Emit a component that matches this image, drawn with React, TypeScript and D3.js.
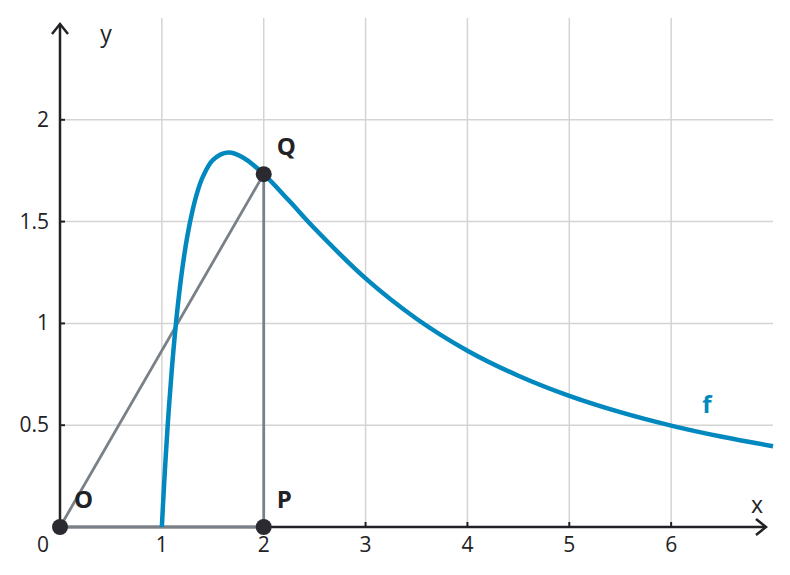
import * as d3 from "d3";

const curveX = [1, 1.01, 1.03, 1.05, 1.07, 1.1, 1.15, 1.2, 1.25, 1.3, 1.35, 1.4, 1.5, 1.65, 1.8, 2, 2.25, 2.5, 3, 3.5, 4, 4.5, 5, 5.5, 6, 6.5, 7];
const curveY = [0, 0.098, 0.279, 0.443, 0.591, 0.788, 1.057, 1.266, 1.428, 1.552, 1.647, 1.717, 1.802, 1.839, 1.814, 1.733, 1.602, 1.466, 1.221, 1.023, 0.866, 0.743, 0.644, 0.564, 0.498, 0.443, 0.397];

const xTicks = [1, 2, 3, 4, 5, 6];
const yTicks = [0.5, 1, 1.5, 2];
const yTickLabels = ["0.5", "1", "1.5", "2"];

const pointNames = ["O", "P", "Q"];
const pointX = [0, 2, 2];
const pointY = [0, 0, 1.733];

const width = 790;
const height = 575;
const font = "'Open Sans', 'Noto Sans', sans-serif";
const ink = "#222226";
const gray = "#7a8087";
const blue = "#0088bf";

export default function App() {
  const x = d3.scaleLinear([0, 7], [60, 773]);
  const y = d3.scaleLinear([0, 2.5], [527, 18]);
  const line = d3
    .line<number>()
    .x((_, i) => x(curveX[i]))
    .y((d) => y(d))
    .curve(d3.curveCatmullRom);

  const [O, P, Q] = pointNames.map((_, i) => ({ cx: x(pointX[i]), cy: y(pointY[i]) }));

  return (
    <svg
      width={width}
      height={height}
      viewBox={`0 0 ${width} ${height}`}
      style={{ position: "absolute", left: 0, top: 0, background: "#fff" }}
      fontFamily={font}
    >
      {xTicks.map((t) => (
        <line key={`gx${t}`} x1={x(t)} x2={x(t)} y1={y(2.5)} y2={y(0)} stroke="#d4d4d4" strokeWidth={1.5} />
      ))}
      {yTicks.map((t) => (
        <line key={`gy${t}`} x1={x(0)} x2={x(7)} y1={y(t)} y2={y(t)} stroke="#d4d4d4" strokeWidth={1.5} />
      ))}

      {/* axes */}
      <line x1={x(0)} x2={766} y1={y(0)} y2={y(0)} stroke={ink} strokeWidth={2.5} />
      <line x1={x(0)} x2={x(0)} y1={y(0)} y2={24} stroke={ink} strokeWidth={2.5} />
      <polyline points={`756,519 766,527 756,535`} fill="none" stroke={ink} strokeWidth={2.5} />
      <polyline points={`52,34 60,24 68,34`} fill="none" stroke={ink} strokeWidth={2.5} />
      {xTicks.map((t) => (
        <g key={`tx${t}`}>
          <line x1={x(t)} x2={x(t)} y1={y(0)} y2={y(0) - 5} stroke={ink} strokeWidth={2} />
          <text x={x(t)} y={552} textAnchor="middle" fontSize={21} fill={ink}>
            {t}
          </text>
        </g>
      ))}
      {yTicks.map((t, i) => (
        <g key={`ty${t}`}>
          <line x1={x(0)} x2={x(0) + 5} y1={y(t)} y2={y(t)} stroke={ink} strokeWidth={2} />
          <text x={49} y={y(t) + 7} textAnchor="end" fontSize={21} fill={ink}>
            {yTickLabels[i]}
          </text>
        </g>
      ))}
      <text x={43} y={552} textAnchor="middle" fontSize={21} fill={ink}>0</text>
      <text x={757} y={513} textAnchor="middle" fontSize={23} fill={ink}>x</text>
      <text x={106} y={42} textAnchor="middle" fontSize={23} fill={ink}>y</text>

      {/* triangle OPQ */}
      <line x1={O.cx} y1={O.cy} x2={P.cx} y2={P.cy} stroke={gray} strokeWidth={2.8} />
      <line x1={O.cx} y1={O.cy} x2={Q.cx} y2={Q.cy} stroke={gray} strokeWidth={2.8} />
      <line x1={P.cx} y1={P.cy} x2={Q.cx} y2={Q.cy} stroke={gray} strokeWidth={2.8} />

      <path d={line(curveY) ?? ""} fill="none" stroke={blue} strokeWidth={4.5} />

      {pointNames.map((n, i) => (
        <circle key={n} cx={x(pointX[i])} cy={y(pointY[i])} r={8} fill="#2a2a30" />
      ))}
      <text x={O.cx + 14} y={O.cy - 19} fontSize={24} fontWeight="bold" fill={ink}>O</text>
      <text x={P.cx + 13} y={P.cy - 19} fontSize={24} fontWeight="bold" fill={ink}>P</text>
      <text x={Q.cx + 13} y={Q.cy - 19} fontSize={24} fontWeight="bold" fill={ink}>Q</text>
      <text x={707} y={413} textAnchor="middle" fontSize={24} fontWeight="bold" fill={blue}>f</text>
    </svg>
  );
}
